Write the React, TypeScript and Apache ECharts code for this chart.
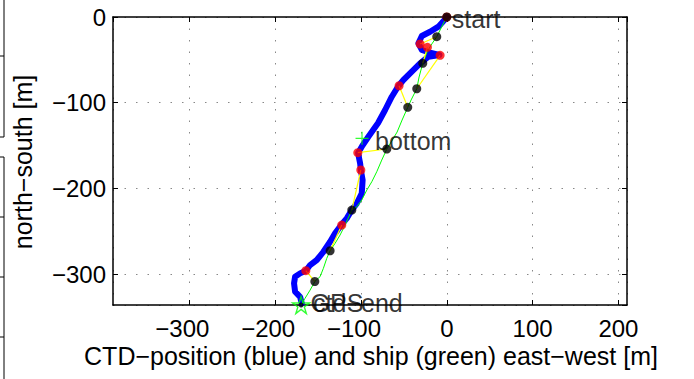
import { useEffect, useRef } from "react";
import * as echarts from "echarts";

// CTD track (blue), metres east-west / north-south
const ctdX = [0, -2.0, -9.8, -19.5, -29.1, -33.1, -29.1, -19.5, -8.6, -21.4, -31.1, -40.8, -50.6, -56.4, -64.1, -71.9, -80.1, -91.4, -99.1, -103.4, -101.0, -100.2, -98.1, -99.1, -104.9, -110.7, -116.6, -122.6, -130.2, -136.0, -143.8, -151.5, -159.3, -164.3, -171.0, -176.8, -178.0, -176.8, -171.0, -169.0];
const ctdY = [0, -2.7, -11.3, -17.2, -22.2, -30.7, -38.5, -41.7, -44.3, -46.3, -54.0, -63.8, -73.5, -80.5, -93.0, -108.5, -123.7, -139.7, -151.3, -158.7, -170.7, -178.5, -190.2, -205.7, -217.4, -225.2, -234.9, -242.1, -252.4, -262.2, -273.9, -283.5, -289.4, -296.0, -299.1, -303.0, -310.7, -320.5, -326.4, -334.1];

// Ship track (green)
const shipX = [0, -3.1, -11.7, -18.3, -23.0, -28.0, -32.3, -35.0, -41.6, -45.5, -52.1, -57.9, -64.9, -69.9, -75.8, -81.6, -87.4, -93.2, -99.1, -104.9, -110.7, -118.5, -124.4, -130.2, -136.0, -139.9, -143.8, -147.7, -153.5, -159.3, -165.2, -169.8];
const shipY = [0, -5.8, -23.0, -32.7, -40.8, -54.0, -70.0, -83.7, -96.8, -105.4, -120.2, -134.2, -145.9, -154.0, -166.9, -180.5, -192.2, -201.9, -213.5, -221.4, -225.2, -242.7, -254.4, -264.1, -272.7, -281.6, -293.2, -303.0, -308.1, -318.6, -328.2, -336.0];

// CTD positions at fixed times (red) and ship positions at same times (black)
const redX = [0, -31.1, -22.6, -7.8, -55.6, -103.7, -100.2, -122.4, -164.3];
const redY = [0, -31.5, -35.4, -44.7, -80.2, -158.3, -178.5, -242.7, -296.0];
const blackX = [0, -11.7, -28.0, -35.0, -45.5, -69.9, -110.7, -136.0, -153.8];
const blackY = [0, -23.0, -54.0, -83.7, -105.4, -154.0, -225.2, -272.7, -308.6];

const bottomPoint = [-98.8, -141.5];
const endPoint = [-169.8, -336.0];

const xTickValues = [-300, -200, -100, 0, 100, 200];
const yTickValues = [0, -100, -200, -300];

const FONT = '"Liberation Sans", Arial, Helvetica, sans-serif';
const FS = 25; // texts
const TFS = 24; // tick labels

const fmt = (v: number) => (v < 0 ? "\u2212" + Math.abs(v) : String(v));

export default function App() {
  const ref = useRef<HTMLDivElement>(null);
  useEffect(() => {
    if (!ref.current) return;
    const chart = echarts.init(ref.current, undefined, { renderer: "svg" });
    const axisCommon = {
      type: "value" as const,
      axisLine: { show: true, onZero: false, lineStyle: { color: "#000", width: 1.5 } },
      axisTick: { show: true, inside: true, length: 5, lineStyle: { color: "#000", width: 1 } },
      minInterval: 100,
      maxInterval: 100,
    };
    const gridLine = { show: true, lineStyle: { color: "#888", width: 1, type: [1.5, 10] as any } };
    const pairSeries = redX.map((_, i) => ({
      type: "line",
      data: [
        [redX[i], redY[i]],
        [blackX[i], blackY[i]],
      ],
      showSymbol: false,
      lineStyle: { color: "#ffff00", width: 1.2 },
      z: 4,
      silent: true,
    }));
    const labelStyle = { fontFamily: FONT, fontSize: FS, color: "#000", lineHeight: FS };
    chart.setOption({
      animation: false,
      backgroundColor: "#fff",
      grid: { left: 113, top: 17, width: 514, height: 288, containLabel: false },
      xAxis: [
        {
          ...axisCommon,
          min: -389,
          max: 210,
          position: "bottom",
          splitLine: gridLine,
          axisLabel: {
            show: true,
            showMinLabel: false,
            showMaxLabel: false,
            margin: 12,
            fontFamily: FONT,
            fontSize: TFS,
            lineHeight: 22,
            color: "#000",
            formatter: (v: number) =>
              xTickValues.includes(v) ? (v < 0 ? "{n|" + fmt(v) + "}" : "{p|" + fmt(v) + "}") : "",
            rich: {
              n: { fontFamily: FONT, fontSize: TFS, color: "#000", lineHeight: 22, padding: [0, 14, 0, 0] },
              p: { fontFamily: FONT, fontSize: TFS, color: "#000", lineHeight: 22 },
            },
          },
        },
        {
          ...axisCommon,
          min: -389,
          max: 210,
          position: "top",
          splitLine: { show: false },
          axisLabel: { show: false },
        },
      ],
      yAxis: [
        {
          ...axisCommon,
          min: -336,
          max: 0,
          position: "left",
          splitLine: gridLine,
          axisLabel: {
            show: true,
            showMinLabel: false,
            margin: 7,
            fontFamily: FONT,
            fontSize: TFS,
            lineHeight: 22,
            color: "#000",
            formatter: (v: number) => (yTickValues.includes(v) ? fmt(v) : ""),
          },
        },
        {
          ...axisCommon,
          min: -336,
          max: 0,
          position: "right",
          splitLine: { show: false },
          axisLabel: { show: false },
        },
      ],
      series: [
        {
          type: "line",
          data: ctdX.map((x, i) => [x, ctdY[i]]),
          showSymbol: false,
          lineStyle: { color: "#0000ff", width: 6, cap: "round", join: "round" },
          z: 2,
          silent: true,
        },
        {
          type: "line",
          data: shipX.map((x, i) => [x, shipY[i]]),
          showSymbol: false,
          lineStyle: { color: "#00ff00", width: 1 },
          z: 3,
          silent: true,
        },
        ...pairSeries,
        {
          type: "scatter",
          data: redX.map((x, i) => [x, redY[i]]),
          symbol: "circle",
          symbolSize: 9,
          itemStyle: { color: "#ff0000" },
          z: 5,
          clip: false,
          silent: true,
        },
        {
          type: "scatter",
          data: blackX.map((x, i) => [x, blackY[i]]),
          symbol: "circle",
          symbolSize: 9,
          itemStyle: { color: "#000000" },
          z: 6,
          clip: false,
          silent: true,
        },
        {
          type: "scatter",
          data: [bottomPoint],
          symbol: "path://M0 6 L12 6 M6 0 L6 12",
          symbolSize: 13,
          itemStyle: { color: "none", borderColor: "#00ff00", borderWidth: 1.2 },
          z: 7,
          clip: false,
          silent: true,
          label: {
            show: true,
            position: "right",
            distance: 4,
            offset: [0, 3],
            formatter: "bottom",
            ...labelStyle,
          },
        },
        {
          type: "scatter",
          data: [endPoint],
          symbol: "path://M50 0 L61.8 36.3 L100 36.3 L69.1 58.8 L80.9 95.1 L50 72.7 L19.1 95.1 L30.9 58.8 L0 36.3 L38.2 36.3 Z",
          symbolSize: 17,
          itemStyle: { color: "none", borderColor: "#00ff00", borderWidth: 1.4 },
          z: 7,
          clip: false,
          silent: true,
          label: {
            show: true,
            position: "right",
            distance: 1,
            offset: [0, -2],
            formatter: "ctd\u2212end",
            ...labelStyle,
          },
        },
        {
          type: "scatter",
          data: [endPoint],
          symbol: "circle",
          symbolSize: 5,
          itemStyle: { color: "#000" },
          z: 8,
          clip: false,
          silent: true,
          label: {
            show: true,
            position: "right",
            distance: 7,
            offset: [0, -2],
            formatter: "GPS",
            ...labelStyle,
          },
        },
        {
          type: "scatter",
          data: [[blackX[0], blackY[0]]],
          symbolSize: 0,
          z: 8,
          clip: false,
          silent: true,
          label: {
            show: true,
            position: "right",
            distance: 5,
            offset: [0, 2],
            formatter: "start",
            ...labelStyle,
          },
        },
      ],
      graphic: [
        {
          type: "text",
          x: 22.5,
          y: 162,
          rotation: Math.PI / 2,
          style: {
            text: "north\u2212south [m]",
            font: `${FS}px ${FONT}`,
            lineHeight: 24,
            align: "center",
            verticalAlign: "middle",
            fill: "#000",
          },
        },
        {
          type: "text",
          x: 371,
          y: 356,
          style: {
            text: "CTD\u2212position (blue) and ship (green) east\u2212west [m]",
            font: `${FS}px ${FONT}`,
            lineHeight: 24,
            align: "center",
            verticalAlign: "middle",
            fill: "#000",
          },
        },
        // fragments of neighbouring axes at the left edge
        { type: "line", shape: { x1: 4, y1: 0, x2: 4, y2: 137 }, style: { stroke: "#000", lineWidth: 1 } },
        { type: "line", shape: { x1: 0, y1: 56, x2: 4, y2: 56 }, style: { stroke: "#000", lineWidth: 1 } },
        { type: "line", shape: { x1: 0, y1: 137, x2: 4, y2: 137 }, style: { stroke: "#000", lineWidth: 1 } },
        { type: "line", shape: { x1: 4, y1: 157, x2: 4, y2: 379 }, style: { stroke: "#000", lineWidth: 1 } },
        { type: "line", shape: { x1: 0, y1: 157, x2: 4, y2: 157 }, style: { stroke: "#000", lineWidth: 1 } },
        { type: "line", shape: { x1: 0, y1: 217, x2: 4, y2: 217 }, style: { stroke: "#000", lineWidth: 1 } },
        { type: "line", shape: { x1: 0, y1: 277, x2: 4, y2: 277 }, style: { stroke: "#000", lineWidth: 1 } },
        { type: "line", shape: { x1: 0, y1: 337, x2: 4, y2: 337 }, style: { stroke: "#000", lineWidth: 1 } },
      ],
    });
    return () => chart.dispose();
  }, []);
  return <div ref={ref} style={{ width: 694, height: 379, position: "absolute", left: 0, top: 0 }} />;
}
